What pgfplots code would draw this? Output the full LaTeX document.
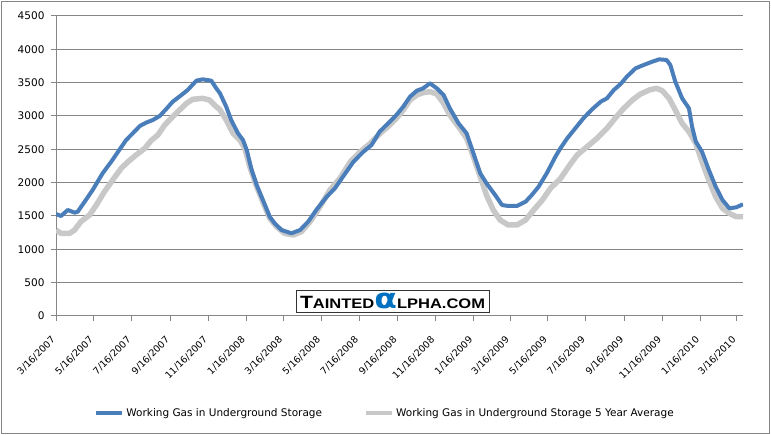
\documentclass[border=0pt]{standalone}
\usepackage{pgfplots}
\pgfplotsset{compat=1.18}
\usepackage{pgfplotstable}
\usepackage{fontspec}
\usepackage{graphicx}
\setmainfont{DejaVu Sans}
\newfontfamily\logofont{Liberation Sans}
\definecolor{axisgray}{HTML}{868686}
\definecolor{serblue}{HTML}{4A7EBB}
\definecolor{sergray}{HTML}{C8C8C8}
\definecolor{logoblue}{HTML}{0070C0}

% x = days since 3/16/2007
\pgfplotstableread{
x y
0 1530
8 1500
19 1590
30 1550
35 1565
48 1740
59 1890
75 2140
89 2315
100 2465
113 2640
121 2715
135 2850
145 2900
156 2940
167 3000
177 3100
188 3215
202 3315
212 3390
226 3530
236 3550
250 3530
258 3415
264 3340
274 3140
282 2940
293 2740
301 2640
307 2490
315 2190
323 1965
333 1740
344 1490
352 1390
363 1290
379 1240
393 1290
406 1415
419 1590
436 1790
449 1915
462 2090
479 2315
495 2465
508 2565
521 2765
538 2920
548 3015
559 3140
570 3290
581 3380
591 3415
602 3490
613 3415
624 3315
634 3115
648 2890
661 2740
672 2440
683 2140
693 1990
707 1815
718 1665
728 1650
742 1650
756 1715
766 1815
777 1940
790 2140
804 2390
812 2515
823 2665
836 2815
849 2965
863 3100
877 3215
887 3265
898 3390
909 3480
919 3590
933 3715
946 3765
960 3815
971 3850
983 3840
989 3765
997 3515
1008 3265
1019 3115
1024 2840
1030 2615
1040 2465
1051 2190
1062 1940
1073 1740
1084 1615
1095 1630
1106 1675
}\storage

\pgfplotstableread{
x y
0 1290
8 1240
22 1240
30 1290
40 1415
54 1515
65 1665
78 1865
92 2050
105 2215
116 2315
129 2415
143 2515
153 2630
164 2715
175 2865
188 2990
199 3090
210 3190
220 3250
236 3265
247 3240
258 3140
264 3095
274 2940
285 2740
296 2640
304 2515
312 2240
323 1940
334 1690
344 1465
355 1340
368 1240
382 1215
395 1265
409 1415
425 1640
441 1890
457 2065
474 2315
490 2465
506 2590
522 2740
538 2870
548 2965
559 3090
570 3240
581 3315
591 3350
602 3365
613 3330
624 3190
634 3015
648 2840
661 2665
672 2390
683 2090
693 1815
704 1590
715 1440
728 1365
742 1365
756 1440
769 1590
783 1740
796 1915
812 2060
826 2250
839 2415
855 2540
871 2665
887 2815
900 2965
914 3115
928 3240
941 3330
955 3390
967 3415
976 3380
987 3265
997 3090
1008 2890
1019 2765
1030 2590
1040 2315
1051 2040
1062 1790
1073 1615
1084 1540
1095 1490
1106 1490
}\average

\begin{document}
\begin{tikzpicture}[x=1pt,y=1pt]
\useasboundingbox (-56,-119) rectangle (715,316);
\fill[white] (-56,-119) rectangle (715,316);
\draw[axisgray, line width=1pt] (-54.5,-117.5) rectangle (713.5,314.5);
\begin{axis}[
  at={(0pt,0pt)}, anchor=south west,
  scale only axis, width=687pt, height=300pt,
  xmin=0, xmax=1106, ymin=0, ymax=4500,
  axis x line*=bottom, axis y line*=left,
  axis line style={axisgray, line width=1pt, -},
  ytick={0,500,...,4500},
  ymajorgrids, grid style={axisgray, line width=1pt},
  xtick={0,61,122,184,245,306,366,427,488,550,611,672,731,792,853,915,976,1037,1096},
  xticklabels={3/16/2007,5/16/2007,7/16/2007,9/16/2007,11/16/2007,1/16/2008,3/16/2008,5/16/2008,7/16/2008,9/16/2008,11/16/2008,1/16/2009,3/16/2009,5/16/2009,7/16/2009,9/16/2009,11/16/2009,1/16/2010,3/16/2010},
  tick align=outside, major tick length=5pt,
  tick style={axisgray, line width=1pt},
  /pgf/number format/assume math mode=true,
  /pgf/number format/1000 sep={},
  yticklabel style={font=\fontsize{10.5}{12}\selectfont, text=black, xshift=-3pt},
  xticklabel shift=15pt,
  xticklabel style={font=\fontsize{9.5}{11}\selectfont, text=black, rotate=45, anchor=east},
  legend style={at={(0.479,-0.323)}, anchor=center, legend columns=2, draw=none, fill=none,
    font=\fontsize{10.5}{12}\selectfont,
    /tikz/every even column/.append style={column sep=40pt}},
  legend image code/.code={\draw[#1, line width=4pt] (0pt,0pt) -- (26pt,0pt);},
  reverse legend,
]
\addplot[sergray, line width=5.5pt, line join=round] table[x=x,y=y] {\average};
\addlegendentry{Working Gas in Underground Storage 5 Year Average}
\addplot[serblue, line width=4pt, line join=round] table[x=x,y=y] {\storage};
\addlegendentry{Working Gas in Underground Storage}
\end{axis}
\node[draw=black!80, line width=0.8pt, fill=white, minimum width=193pt, minimum height=22pt, inner sep=0pt] at (336.5,15)
  {\resizebox{185pt}{15.5pt}{\logofont\bfseries{\fontsize{18}{18}\selectfont T}{\fontsize{14}{14}\selectfont AINTED}{\fontspec{DejaVu Sans}\bfseries\color{logoblue}\fontsize{28}{28}\selectfont α}{\fontsize{14}{14}\selectfont LPHA.COM}}};
\end{tikzpicture}
\end{document}
